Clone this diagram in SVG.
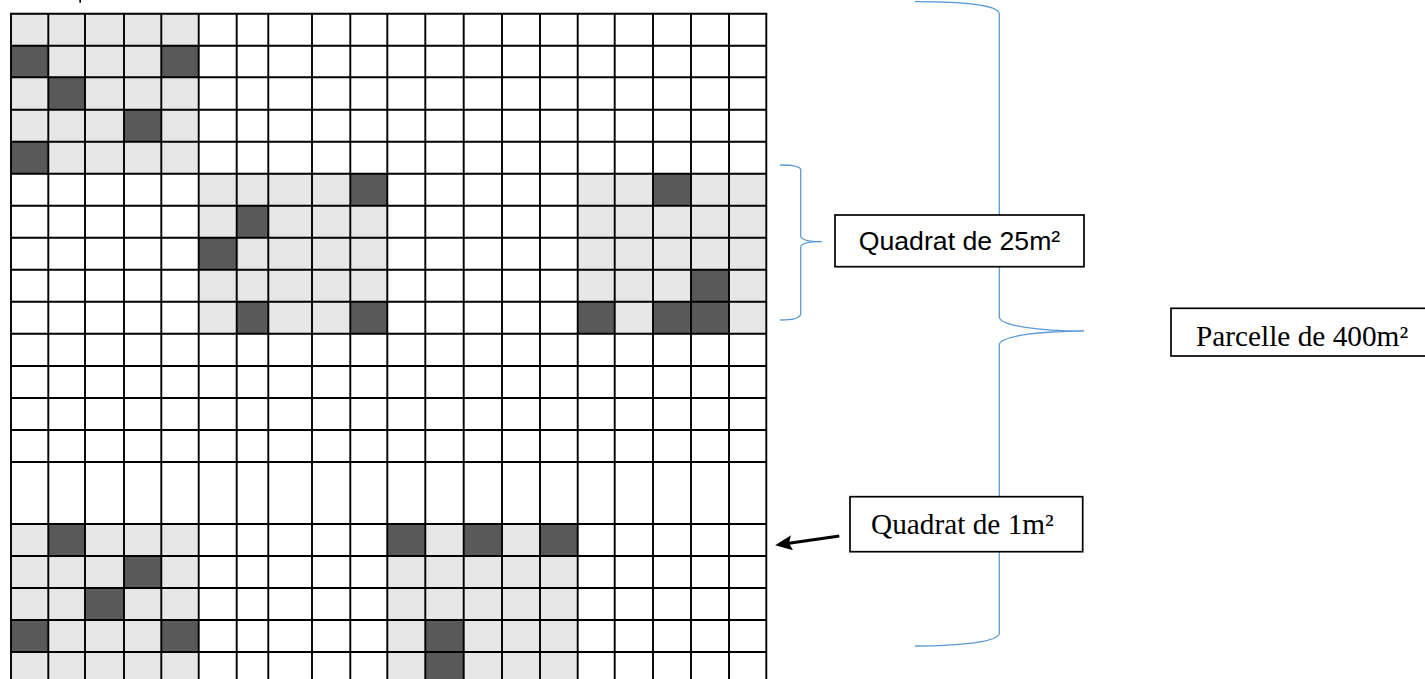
<svg xmlns="http://www.w3.org/2000/svg" width="1425" height="679" viewBox="0 0 1425 679">
<style>
.bg{fill:#ffffff}
.lt{fill:#e6e6e6}
.dk{fill:#595959}
.grid{fill:none;stroke:#000000;stroke-width:1.9}
.brace{fill:none;stroke:#5b9bd5;stroke-width:1.3}
.box{fill:#ffffff;stroke:#000000;stroke-width:1.7}
.sans{font-family:"Liberation Sans",Arial,sans-serif;font-size:26.67px;fill:#000000}
.serif{font-family:"Liberation Serif","Times New Roman",serif;font-size:29.3px;fill:#000000}
</style>
<defs>
<marker id="arrow" viewBox="0 0 17 15" refX="3" refY="7.5" markerWidth="17" markerHeight="15" markerUnits="userSpaceOnUse" orient="auto">
<path d="M0,0 L17,7.5 L0,15 L3,7.5 z" fill="#000000"/>
</marker>
</defs>
<rect class="bg" x="0" y="0" width="1425" height="679"/>
<rect x="79.3" y="0" width="1.7" height="2.7" fill="#000000"/>

<g id="quadrat-a">
<rect class="lt" x="11" y="13.7" width="187.7" height="160"/>
<rect class="dk" x="11" y="45.7" width="37.3" height="31.6"/>
<rect class="dk" x="161.3" y="45.7" width="37.4" height="31.6"/>
<rect class="dk" x="48.3" y="77.3" width="36.7" height="32.4"/>
<rect class="dk" x="124" y="109.7" width="37.3" height="32"/>
<rect class="dk" x="11" y="141.7" width="37.3" height="32"/>
</g>
<g id="quadrat-b">
<rect class="lt" x="198.7" y="173.7" width="188.6" height="160"/>
<rect class="dk" x="350.3" y="173.7" width="37" height="32"/>
<rect class="dk" x="236.7" y="205.7" width="31.6" height="32"/>
<rect class="dk" x="198.7" y="237.7" width="38" height="32"/>
<rect class="dk" x="236.7" y="301.7" width="31.6" height="32"/>
<rect class="dk" x="350.3" y="301.7" width="37" height="32"/>
</g>
<g id="quadrat-c">
<rect class="lt" x="577.7" y="173.7" width="188.6" height="160"/>
<rect class="dk" x="653" y="173.7" width="38" height="32"/>
<rect class="dk" x="691" y="269.7" width="38" height="32"/>
<rect class="dk" x="577.7" y="301.7" width="37" height="32"/>
<rect class="dk" x="653" y="301.7" width="76" height="32"/>
</g>
<g id="quadrat-d">
<rect class="lt" x="11" y="524" width="187.7" height="160"/>
<rect class="dk" x="48.3" y="524" width="36.7" height="32"/>
<rect class="dk" x="124" y="556" width="37.3" height="32"/>
<rect class="dk" x="85" y="588" width="39" height="32"/>
<rect class="dk" x="11" y="620" width="37.3" height="32"/>
<rect class="dk" x="161.3" y="620" width="37.4" height="32"/>
</g>
<g id="quadrat-e">
<rect class="lt" x="387.3" y="524" width="190.4" height="160"/>
<rect class="dk" x="387.3" y="524" width="38" height="32"/>
<rect class="dk" x="463.7" y="524" width="38.3" height="32"/>
<rect class="dk" x="540" y="524" width="37.7" height="32"/>
<rect class="dk" x="425.3" y="620" width="38.4" height="64"/>
</g>

<g id="parcelle-grid">
<path class="grid" d="M11,13.7V684 M48.3,13.7V684 M85,13.7V684 M124,13.7V684 M161.3,13.7V684 M198.7,13.7V684 M236.7,13.7V684 M268.3,13.7V684 M312,13.7V684 M350.3,13.7V684 M387.3,13.7V684 M425.3,13.7V684 M463.7,13.7V684 M502,13.7V684 M540,13.7V684 M577.7,13.7V684 M614.7,13.7V684 M653,13.7V684 M691,13.7V684 M729,13.7V684 M766.3,13.7V684"/>
<path class="grid" d="M10,13.7H767.3 M11,45.7H766.3 M11,77.3H766.3 M11,109.7H766.3 M11,141.7H766.3 M11,173.7H766.3 M11,205.7H766.3 M11,237.7H766.3 M11,269.7H766.3 M11,301.7H766.3 M11,333.7H766.3 M11,366H766.3 M11,398H766.3 M11,430H766.3 M11,462H766.3 M11,524H766.3 M11,556H766.3 M11,588H766.3 M11,620H766.3 M11,652H766.3"/>
</g>

<g id="connectors">
<path class="brace" d="M780,165 C792,165 800.7,166 800.7,170 L800.7,236 C800.7,240 810,241.7 822,241.7 C810,241.7 800.7,243.4 800.7,247.4 L800.7,313.5 C800.7,318 792,320 780,320"/>
<path class="brace" d="M915,1.7 C960,1.7 999.3,5 999.3,14 L999.3,316.7 C999.3,326 1040,331 1084,331 C1040,331 999.3,336 999.3,345 L999.3,633 C999.3,642 960,646 915,646"/>
<line x1="839.3" y1="536" x2="789" y2="543.2" stroke="#000000" stroke-width="3" marker-end="url(#arrow)"/>
</g>

<g id="label-quadrat-25">
<rect class="box" x="835" y="215" width="249" height="51.7"/>
<text class="sans" x="959.5" y="250" text-anchor="middle">Quadrat de 25m²</text>
</g>
<g id="label-parcelle-400">
<rect class="box" x="1171" y="308.3" width="260" height="47.7"/>
<text class="serif" x="1196" y="345.7">Parcelle de 400m²</text>
</g>
<g id="label-quadrat-1">
<rect class="box" x="850" y="496.7" width="232.7" height="55"/>
<text class="serif" x="871" y="534.3">Quadrat de 1m²</text>
</g>
</svg>
